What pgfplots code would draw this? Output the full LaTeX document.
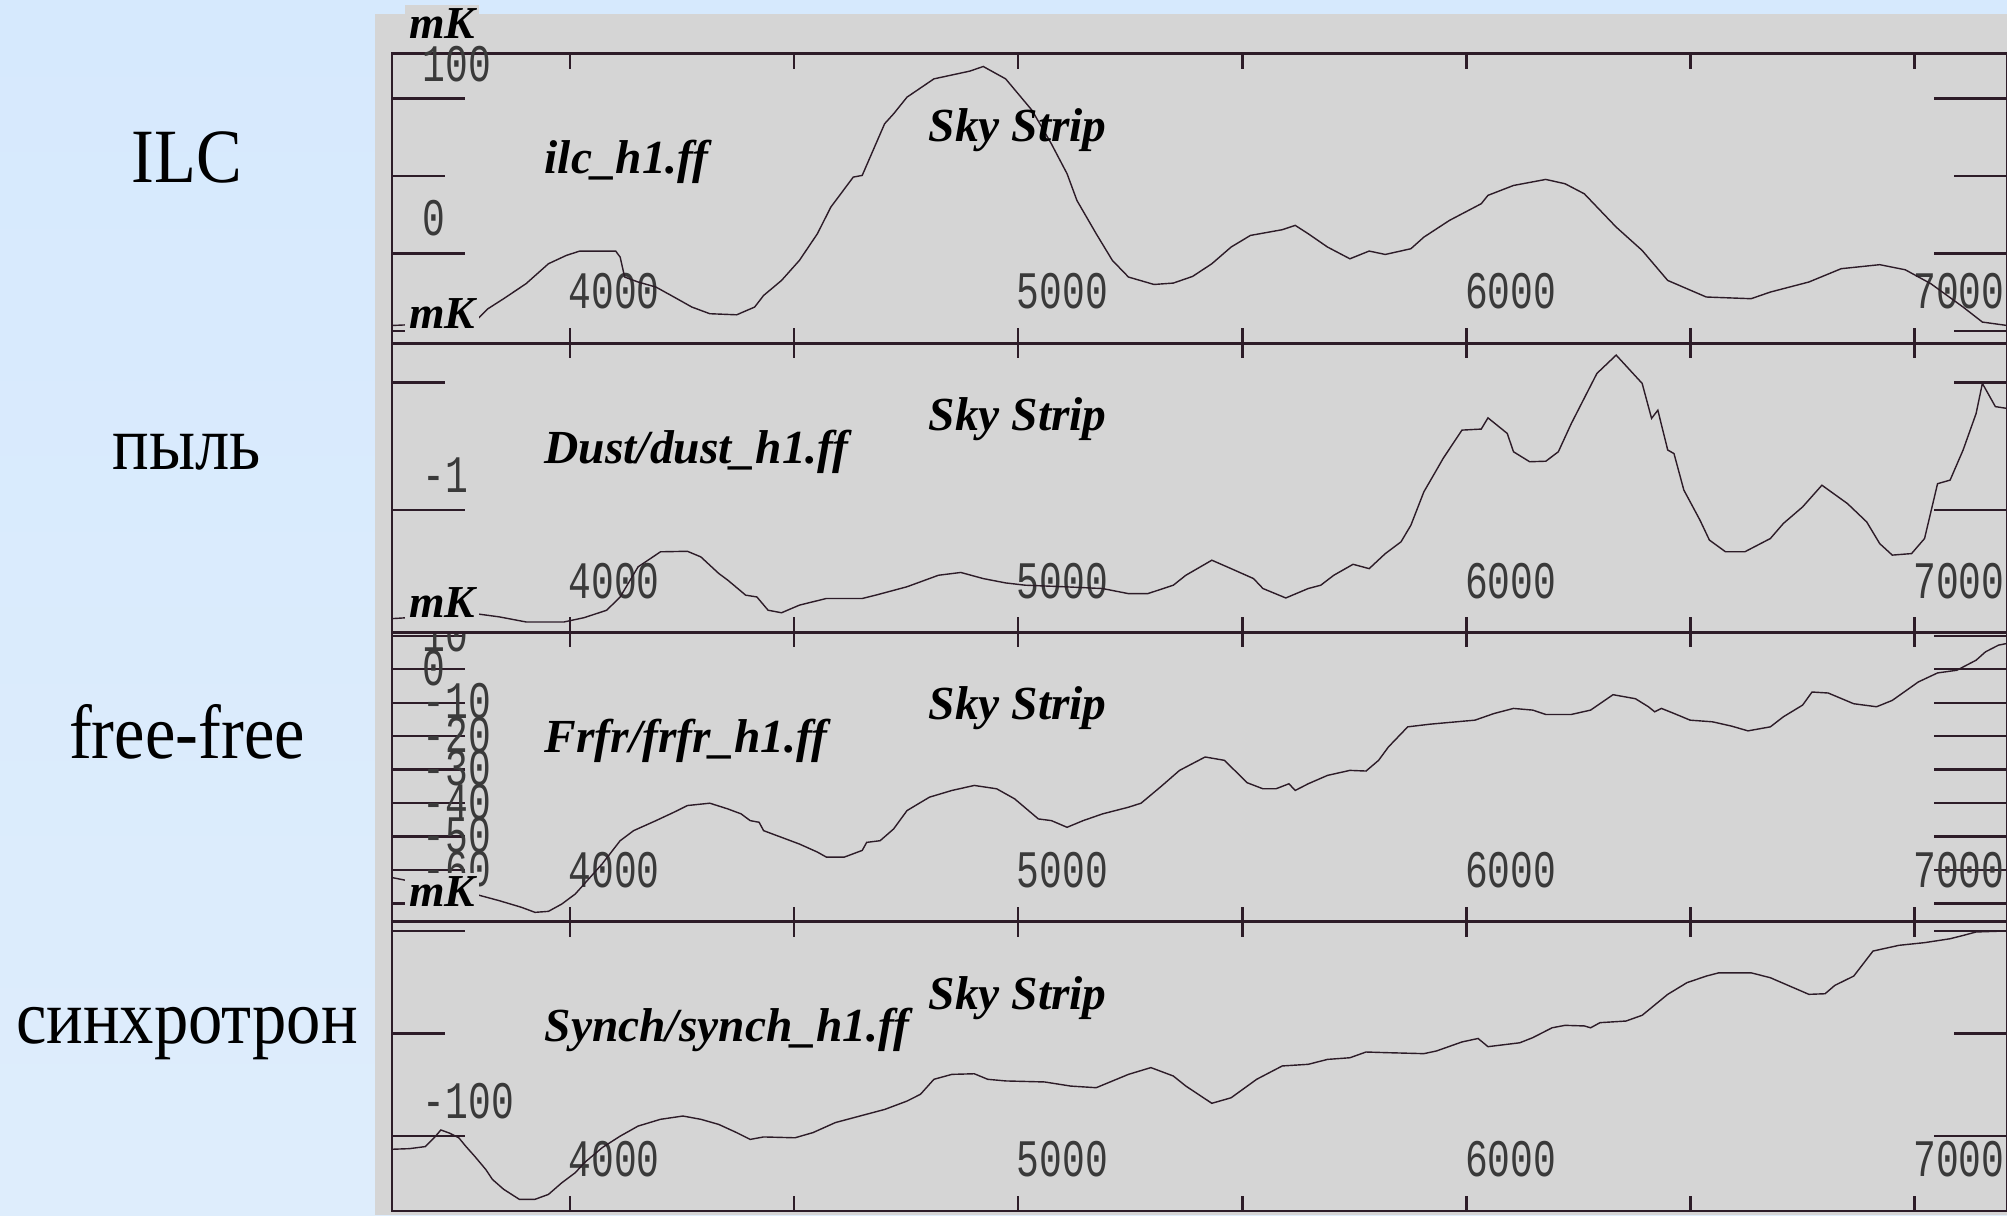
\documentclass[border=0pt]{standalone}
\usepackage{fontspec}
\setmainfont{Liberation Serif}
\newfontfamily\tickfont[FakeStretch=0.72]{Liberation Mono}
\usepackage{pgfplots}
\pgfplotsset{compat=1.18}

\definecolor{panelgray}{RGB}{213,213,213}
\definecolor{ink}{RGB}{45,28,40}
\definecolor{ticktext}{RGB}{58,58,58}
\definecolor{bgtop}{RGB}{214,233,253}
\definecolor{bgmid}{RGB}{186,216,248}
\definecolor{bgbot}{RGB}{222,237,252}

% one sky strip panel
\pgfplotsset{strip/.style={
    scale only axis, width=161.5mm, height=28.93mm, anchor=north west,
    xmin=3603, xmax=7206,
    axis background/.style={fill=panelgray},
    axis line style={ink, line width=0.8pt},
    every tick/.style={ink, line width=0.7pt},
    tick align=inside, tick pos=both,
    xtick=\empty,
    extra x ticks={4000,4500,...,7000},
    extra x tick labels={4000,,5000,,6000,,7000},
    extra x tick style={major tick length=1.5mm,
        xticklabel style={anchor=south west, inner sep=0pt, yshift=3.3mm, xshift=-0.2mm}},
    major tick length=7.3mm, minor tick length=5.3mm,
    yticklabel style={anchor=west, inner sep=0pt, xshift=3.0mm, yshift=3.5mm},
    ticklabel style={font=\tickfont\fontsize{15pt}{15pt}\selectfont, text=ticktext},
    cycle list={{ink, line width=0.6pt, mark=none}},
}}
\tikzset{stripname/.style={anchor=base west, inner sep=0pt,
    font=\bfseries\itshape\fontsize{13.5pt}{14pt}\selectfont},
  unit/.style={fill=panelgray, inner sep=0.4mm,
    font=\bfseries\itshape\fontsize{13pt}{13pt}\selectfont},
  side/.style={anchor=base, font=\fontsize{19.5pt}{20pt}\selectfont}}

\begin{document}
\begin{tikzpicture}
\useasboundingbox (0,0) rectangle (200.7mm,-121.5mm);
\clip (0,0) rectangle (200.7mm,-121.5mm);
\shade[top color=bgtop, middle color=bgmid, bottom color=bgbot] (0,0) rectangle (200.7mm,-121.5mm);
\fill[panelgray] (37.5mm,-1.4mm) rectangle (200.7mm,-121.5mm);

% synchrotron
\begin{axis}[strip, at={(39.2mm,-92.17mm)}, ymin=-136.5, ymax=4.5,
    ytick={-100,0}, minor ytick={-50}, yticklabels={-100,0}]
\addplot coordinates {
(3603,-106.4) (3642,-106.1) (3677,-105.1) (3697,-100.8) (3712,-97.0) (3732,-98.6)
(3752,-100.8) (3767,-104.8) (3787,-109.7) (3812,-116.2) (3827,-121.1) (3852,-125.9)
(3887,-130.8) (3922,-130.8) (3952,-128.4) (3982,-122.7) (4012,-117.8) (4032,-113.0)
(4072,-105.6) (4112,-100.0) (4152,-95.1) (4202,-91.8) (4252,-90.2) (4292,-91.8)
(4332,-94.3) (4372,-98.3) (4402,-101.6) (4432,-100.4) (4502,-100.8) (4542,-98.3)
(4592,-93.4) (4652,-89.9) (4702,-87.0) (4752,-82.9) (4782,-79.6) (4812,-72.3)
(4852,-69.9) (4902,-69.6) (4932,-72.3) (4972,-73.1) (5059,-73.6) (5117,-75.6)
(5174,-76.4) (5246,-69.9) (5296,-66.6) (5346,-70.7) (5374,-75.6) (5432,-84.0)
(5475,-81.3) (5532,-72.3) (5589,-65.8) (5647,-65.0) (5690,-62.6) (5740,-61.8)
(5776,-59.0) (5819,-59.3) (5905,-59.8) (5933,-58.5) (5990,-54.1) (6026,-52.4)
(6048,-56.4) (6119,-54.5) (6148,-52.0) (6191,-47.2) (6220,-46.0) (6263,-46.3)
(6277,-47.2) (6298,-44.7) (6356,-43.9) (6392,-41.1) (6449,-30.9) (6492,-25.2)
(6535,-22.0) (6563,-20.4) (6635,-20.4) (6678,-22.8) (6764,-30.9) (6800,-30.6)
(6822,-26.5) (6864,-22.0) (6907,-9.8) (6965,-7.0) (7022,-5.7) (7079,-3.8)
(7108,-2.2) (7137,-0.5) (7206,0.0)
};
\end{axis}

% free-free
\begin{axis}[strip, at={(39.2mm,-63.24mm)}, ymin=-65.4, ymax=21,
    ytick={-60,-50,...,20}, yticklabels={-60,-50,-40,-30,-20,-10,0,10,20}]
\addplot coordinates {
(3603,-52.2) (3792,-57.3) (3842,-59.1) (3892,-61.1) (3922,-62.6) (3952,-62.3)
(3982,-60.1) (4012,-57.1) (4032,-54.1) (4072,-48.1) (4112,-41.2) (4142,-38.2)
(4192,-35.2) (4232,-32.7) (4262,-30.7) (4312,-30.0) (4352,-31.7) (4382,-33.2)
(4402,-35.2) (4422,-35.7) (4432,-38.2) (4472,-40.2) (4512,-42.2) (4552,-44.6)
(4572,-46.1) (4612,-46.1) (4652,-44.1) (4662,-41.7) (4692,-41.2) (4722,-37.7)
(4752,-32.2) (4802,-28.2) (4852,-26.2) (4902,-24.7) (4952,-25.7) (4992,-28.7)
(5045,-34.7) (5074,-35.2) (5109,-37.2) (5145,-35.2) (5188,-33.2) (5246,-31.2)
(5274,-30.0) (5317,-25.2) (5360,-20.2) (5417,-16.2) (5460,-17.2) (5511,-23.9)
(5546,-25.7) (5575,-25.7) (5604,-24.2) (5618,-26.2) (5647,-24.2) (5690,-21.7)
(5740,-20.2) (5776,-20.4) (5804,-17.2) (5826,-13.2) (5869,-7.2) (5919,-6.4)
(6019,-5.2) (6062,-3.2) (6105,-1.7) (6148,-2.2) (6177,-3.5) (6234,-3.5)
(6277,-2.2) (6327,2.4) (6377,1.2) (6406,-1.2) (6420,-2.7) (6435,-1.7)
(6463,-3.2) (6499,-5.2) (6549,-5.7) (6592,-7.0) (6628,-8.4) (6678,-7.2)
(6707,-4.2) (6750,-0.7) (6771,3.2) (6807,2.9) (6864,-0.3) (6915,-1.2)
(6950,0.7) (7008,6.2) (7051,8.9) (7094,9.7) (7137,12.7) (7158,15.2)
(7187,17.2) (7206,17.7)
};
\end{axis}

% dust
\begin{axis}[strip, at={(39.2mm,-34.31mm)}, ymin=-1.479, ymax=-0.345,
    ytick={-1}, minor ytick={-0.5}, yticklabels={-1}]
\addplot coordinates {
(3603,-1.425) (3787,-1.405) (3842,-1.418) (3902,-1.438) (3987,-1.438) (4032,-1.421)
(4082,-1.392) (4112,-1.340) (4152,-1.222) (4202,-1.163) (4262,-1.161) (4292,-1.183)
(4332,-1.248) (4352,-1.274) (4392,-1.333) (4417,-1.340) (4442,-1.392) (4472,-1.402)
(4512,-1.372) (4572,-1.346) (4652,-1.346) (4682,-1.333) (4752,-1.300) (4822,-1.255)
(4872,-1.244) (4922,-1.268) (4972,-1.285) (5016,-1.294) (5102,-1.300) (5188,-1.307)
(5246,-1.327) (5289,-1.327) (5346,-1.294) (5374,-1.255) (5432,-1.196) (5475,-1.229)
(5525,-1.268) (5546,-1.307) (5597,-1.344) (5647,-1.307) (5675,-1.294) (5704,-1.255)
(5747,-1.212) (5783,-1.229) (5819,-1.170) (5854,-1.124) (5876,-1.059) (5905,-0.928)
(5933,-0.843) (5948,-0.797) (5990,-0.686) (6033,-0.682) (6048,-0.638) (6091,-0.699)
(6105,-0.771) (6141,-0.810) (6177,-0.808) (6205,-0.771) (6234,-0.660) (6291,-0.464)
(6334,-0.392) (6392,-0.503) (6413,-0.640) (6427,-0.608) (6449,-0.764) (6463,-0.778)
(6485,-0.921) (6521,-1.039) (6542,-1.117) (6578,-1.163) (6621,-1.163) (6678,-1.111)
(6707,-1.052) (6750,-0.987) (6793,-0.902) (6850,-0.974) (6893,-1.046) (6922,-1.131)
(6950,-1.176) (6993,-1.170) (7022,-1.111) (7051,-0.896) (7079,-0.882) (7108,-0.764)
(7137,-0.621) (7151,-0.503) (7180,-0.594) (7206,-0.601)
};
\end{axis}

% ILC
\begin{axis}[strip, at={(39.2mm,-5.38mm)}, ymin=-58, ymax=129,
    ytick={0,100}, minor ytick={-50,50}, yticklabels={0,100}]
\addplot coordinates {
(3603,-46.6) (3787,-44.4) (3817,-35.8) (3852,-29.3) (3902,-19.6) (3952,-6.7)
(3992,-1.3) (4022,1.5) (4102,1.5) (4112,-2.4) (4122,-15.3) (4152,-18.5)
(4192,-21.8) (4232,-28.2) (4272,-34.7) (4312,-39.0) (4372,-39.7) (4412,-34.7)
(4432,-27.2) (4472,-17.5) (4512,-4.5) (4552,12.7) (4582,29.9) (4632,49.3)
(4652,50.4) (4702,83.8) (4722,90.2) (4752,101.0) (4812,112.8) (4892,117.8)
(4922,120.8) (4972,112.8) (5031,92.4) (5074,70.8) (5109,51.5) (5131,34.2)
(5174,12.7) (5210,-4.5) (5246,-15.3) (5303,-20.1) (5346,-19.2) (5389,-14.9)
(5432,-6.7) (5475,4.1) (5518,11.6) (5589,15.3) (5618,18.1) (5647,12.7)
(5690,4.1) (5740,-3.5) (5783,1.5) (5819,-0.7) (5876,3.0) (5905,10.5)
(5962,21.3) (6033,32.1) (6048,37.5) (6105,43.9) (6177,47.8) (6220,45.0)
(6263,38.5) (6334,17.0) (6392,1.9) (6449,-17.5) (6535,-28.2) (6635,-29.3)
(6678,-25.0) (6764,-18.5) (6836,-9.9) (6922,-7.3) (6979,-10.6) (7036,-19.6)
(7108,-34.7) (7151,-44.4) (7206,-46.6)
};
\end{axis}

% labels of the strips
\node[stripname] at (54.4mm,-17.38mm) {ilc\_h1.ff};
\node[stripname] at (54.4mm,-46.31mm) {Dust/dust\_h1.ff};
\node[stripname] at (54.4mm,-75.24mm) {Frfr/frfr\_h1.ff};
\node[stripname] at (54.4mm,-104.17mm) {Synch/synch\_h1.ff};
\node[stripname] at (92.8mm,-14.13mm) {Sky Strip};
\node[stripname] at (92.8mm,-43.06mm) {Sky Strip};
\node[stripname] at (92.8mm,-71.99mm) {Sky Strip};
\node[stripname] at (92.8mm,-100.92mm) {Sky Strip};
\node[unit] at (44.2mm,-2.38mm) {mK};
\node[unit] at (44.2mm,-31.31mm) {mK};
\node[unit] at (44.2mm,-60.24mm) {mK};
\node[unit] at (44.2mm,-89.17mm) {mK};

% component names on the slide
\node[side] at (18.7mm,-18.2mm) {\scalebox{1}[1.12]{ILC}};
\node[side] at (18.7mm,-46.9mm) {\scalebox{1}[1.12]{пыль}};
\node[side] at (18.7mm,-75.8mm) {\scalebox{1}[1.12]{free-free}};
\node[side] at (18.7mm,-104.3mm) {\scalebox{1}[1.12]{синхротрон}};
\end{tikzpicture}
\end{document}
